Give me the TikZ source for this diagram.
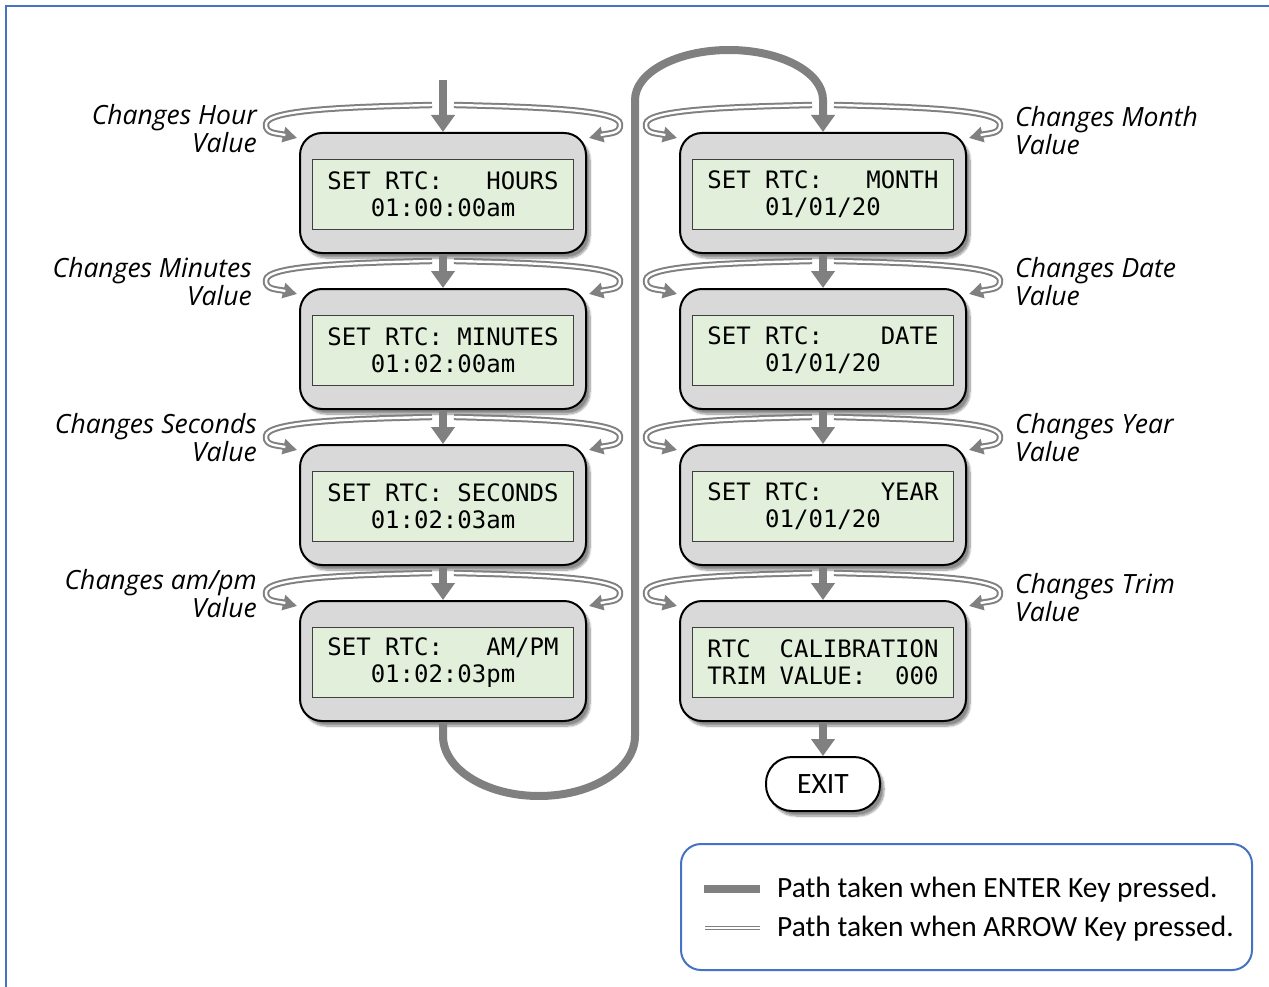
\documentclass[tikz,border=0pt]{standalone}
\usepackage{fontspec}
\setmainfont{Carlito}
\newfontfamily\lblfont{Open Sans}
\newfontfamily\lcdfont{DejaVu Sans Mono}
\usetikzlibrary{arrows.meta,shadows,shadows.blur,calc}
\definecolor{arrowgray}{HTML}{808080}
\definecolor{boxgray}{HTML}{D9D9D9}
\definecolor{screengreen}{HTML}{E2EFDA}
\definecolor{screenedge}{HTML}{3F3F3F}
\definecolor{frameblue}{HTML}{4472C4}
\newcommand\keyloops[1]{%
  \draw[arrowkey] ($(#1.north)+(-11,-27)$) .. controls ($(#1.north)+(-100,-25)$) and ($(#1.north)+(-176,-22)$) .. ($(#1.north)+(-177,-8)$)
     .. controls ($(#1.north)+(-178,2)$) and ($(#1.north)+(-166,1)$) .. ($(#1.north)+(-146,6)$);
  \draw[arrowkey] ($(#1.north)+(11,-27)$) .. controls ($(#1.north)+(100,-25)$) and ($(#1.north)+(176,-22)$) .. ($(#1.north)+(177,-8)$)
     .. controls ($(#1.north)+(178,2)$) and ($(#1.north)+(166,1)$) .. ($(#1.north)+(146,6)$);
}
\begin{document}
\begin{tikzpicture}[x=1pt,y=-1pt,
  lcdbox/.style={draw=black,line width=2pt,fill=boxgray,rounded corners=22pt,
    minimum width=286pt,minimum height=120pt,
    blur shadow={shadow xshift=4pt,shadow yshift=-5pt,shadow blur steps=10,shadow opacity=45}},
  lcdscreen/.style={draw=screenedge,line width=1pt,fill=screengreen,minimum width=261pt,
    minimum height=70pt,inner sep=0pt,align=center,font=\lcdfont\fontsize{24}{27}\selectfont},
  enter/.style={draw=arrowgray,line width=8pt,-{Triangle[length=17pt,width=23pt]}},
  arrowkey/.style={draw=white,line width=2.4pt,shorten >=12pt,
    preaction={draw=arrowgray,line width=6.4pt,shorten >=0pt,-{Triangle[length=14pt,width=15pt]}}},
  keyline/.style={draw=white,line width=1.6pt,preaction={draw=arrowgray,line width=4.6pt}},
  lbl/.style={inner sep=0pt,font=\lblfont\itshape\fontsize{26.5}{28}\selectfont},
  lbll/.style={lbl,anchor=east,align=right},
  lblr/.style={lbl,anchor=west,align=left},
  exitbox/.style={draw=black,line width=2pt,fill=white,rounded corners=26pt,
    minimum width=114pt,minimum height=54pt,font=\fontsize{29.5}{32}\selectfont,
    blur shadow={shadow xshift=4pt,shadow yshift=-5pt,shadow blur steps=10,shadow opacity=45}},
  legendbox/.style={draw=frameblue,line width=2pt,rounded corners=20pt,minimum width=571pt,minimum height=126pt},
  legtext/.style={anchor=west,inner sep=0pt,font=\fontsize{29.4}{32}\selectfont}]
\useasboundingbox (0,0) rectangle (1269,987);
\draw[frameblue,line width=2pt] (6,6) rectangle (1290,1010);

% boxes
\node[lcdbox] (h)  at (443,193) {};
\node[lcdbox] (mi) at (443,349) {};
\node[lcdbox] (s)  at (443,505) {};
\node[lcdbox] (ap) at (443,661) {};
\node[lcdbox] (mo) at (823,193) {};
\node[lcdbox] (d)  at (823,349) {};
\node[lcdbox] (yr) at (823,505) {};
\node[lcdbox] (tr) at (823,661) {};

\node[lcdscreen] (hs)  at (443,194.5) {SET RTC:\ \ \ HOURS\\01:00:00am};
\node[lcdscreen] (mis) at (443,350.5) {SET RTC: MINUTES\\01:02:00am};
\node[lcdscreen] (ss)  at (443,506.5) {SET RTC: SECONDS\\01:02:03am};
\node[lcdscreen] (aps) at (443,662.5) {SET RTC:\ \ \ AM/PM\\01:02:03pm};
\node[lcdscreen] (mos) at (823,194.5) {SET RTC:\ \ \ MONTH\\01/01/20};
\node[lcdscreen] (ds)  at (823,350.5) {SET RTC:\ \ \ \ DATE\\01/01/20};
\node[lcdscreen] (yrs) at (823,506.5) {SET RTC:\ \ \ \ YEAR\\01/01/20};
\node[lcdscreen] (trs) at (823,662.5) {RTC\ \ CALIBRATION\\TRIM VALUE:\ \ 000};

\node[exitbox] (ex) at (823,784) {EXIT};

% enter arrows
\coordinate (in) at (443,80);
\draw[enter] (in) -- (h);
\draw[enter] (h) -- (mi);
\draw[enter] (mi) -- (s);
\draw[enter] (s) -- (ap);
\draw[enter] (mo) -- (d);
\draw[enter] (d) -- (yr);
\draw[enter] (yr) -- (tr);
\draw[enter] (tr) -- (ex);
\draw[enter] (ap.south) -- ++(0,14) arc[start angle=180,end angle=0,x radius=96,y radius=60]
   -- (635,100) arc[start angle=180,end angle=360,x radius=94,y radius=50] -- (mo.north);

% arrow key loops
\keyloops{h}
\keyloops{mi}
\keyloops{s}
\keyloops{ap}
\keyloops{mo}
\keyloops{d}
\keyloops{yr}
\keyloops{tr}

% labels
\node[lbll] (lh)  at (257,129) {Changes Hour\\Value};
\node[lbll] (lmi) at (252,282) {Changes Minutes\\Value};
\node[lbll] (ls)  at (257,438) {Changes Seconds\\Value};
\node[lbll] (lap) at (257,594) {Changes am/pm\\Value};
\node[lblr] (lmo) at (1015,131) {Changes Month\\Value};
\node[lblr] (ld)  at (1015,282) {Changes Date\\Value};
\node[lblr] (lyr) at (1015,438) {Changes Year\\Value};
\node[lblr] (ltr) at (1015,598) {Changes Trim\\Value};

% legend
\node[legendbox] (leg) at (966.5,907) {};
\coordinate (e1) at (704,889);
\coordinate (e2) at (760,889);
\draw[arrowgray,line width=8pt] (e1) -- (e2);
\coordinate (k1) at (705,928);
\coordinate (k2) at (760,928);
\draw[keyline] (k1) -- (k2);
\node[legtext] (t1) at (777,890) {Path taken when ENTER Key pressed.};
\node[legtext] (t2) at (777,929) {Path taken when ARROW Key pressed.};
\end{tikzpicture}
\end{document}
